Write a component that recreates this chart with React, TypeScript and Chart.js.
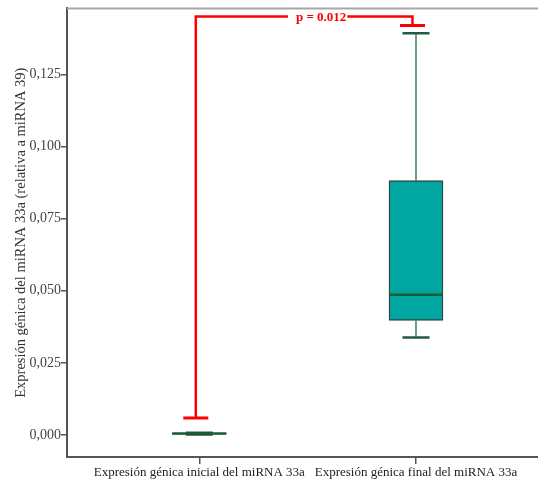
import React, { useEffect, useRef } from "react";
import { Chart, registerables } from "chart.js";

Chart.register(...registerables);

// ---- data ----
const categories = [
  "Expresión génica inicial del miRNA 33a",
  "Expresión génica final del miRNA 33a",
];
const categoryPositions = [1, 2];
const whiskerLow = [0.0002, 0.0338];
const quartile1 = [0.0003, 0.0397];
const medians = [0.0005, 0.0486];
const quartile3 = [0.0006, 0.0882];
const whiskerHigh = [0.0008, 0.1393];
const yTickValues = [0, 0.025, 0.05, 0.075, 0.1, 0.125];
const yAxisTitle = "Expresión génica del miRNA 33a (relativa a miRNA 39)";
const bracketTop = 0.1451;
const bracketLeftEnd = 0.0059;
const bracketRightEnd = 0.142;
const pLabel = "p = 0.012";

const Y_MIN = -0.00764;
const Y_MAX = 0.14792;
const X_MIN = 0.3895;
const X_MAX = 2.563;

const FONT = '"Liberation Serif", "Times New Roman", serif';

const boxPlugin = {
  id: "boxExtras",
  afterDatasetsDraw(chart: any) {
    const ctx = chart.ctx;
    const xs = chart.scales.x;
    const ys = chart.scales.y;
    const area = chart.chartArea;
    ctx.save();
    // top frame line
    ctx.strokeStyle = "#a8a8a8";
    ctx.lineWidth = 2;
    ctx.beginPath();
    ctx.moveTo(area.left, area.top);
    ctx.lineTo(chart.width, area.top);
    ctx.stroke();

    const boxHalf = 27;
    const capHalf = 13.5;
    categoryPositions.forEach((pos, i) => {
      const cx = xs.getPixelForValue(pos);
      const yLo = ys.getPixelForValue(whiskerLow[i]);
      const yQ1 = ys.getPixelForValue(quartile1[i]);
      const yQ3 = ys.getPixelForValue(quartile3[i]);
      const yHi = ys.getPixelForValue(whiskerHigh[i]);
      const yMed = ys.getPixelForValue(medians[i]);
      // whiskers
      ctx.strokeStyle = "#3b7c5e";
      ctx.lineWidth = 1.5;
      ctx.beginPath();
      ctx.moveTo(cx, yQ3);
      ctx.lineTo(cx, yHi);
      ctx.moveTo(cx, yQ1);
      ctx.lineTo(cx, yLo);
      ctx.stroke();
      // caps
      ctx.strokeStyle = "#1d5e3d";
      ctx.lineWidth = 2.5;
      ctx.beginPath();
      ctx.moveTo(cx - capHalf, yHi);
      ctx.lineTo(cx + capHalf, yHi);
      ctx.moveTo(cx - capHalf, yLo);
      ctx.lineTo(cx + capHalf, yLo);
      ctx.stroke();
      // median
      ctx.strokeStyle = "#1a5a36";
      ctx.lineWidth = 2.5;
      ctx.beginPath();
      ctx.moveTo(cx - boxHalf, yMed);
      ctx.lineTo(cx + boxHalf, yMed);
      ctx.stroke();
    });

    // significance bracket
    const off = -3.5;
    const lx = xs.getPixelForValue(categoryPositions[0]) + off;
    const rx = xs.getPixelForValue(categoryPositions[1]) + off;
    const yTop = ys.getPixelForValue(bracketTop);
    const yL = ys.getPixelForValue(bracketLeftEnd);
    const yR = ys.getPixelForValue(bracketRightEnd);
    ctx.strokeStyle = "#ff0000";
    ctx.lineWidth = 2.5;
    ctx.lineCap = "butt";
    ctx.beginPath();
    ctx.moveTo(lx, yL);
    ctx.lineTo(lx, yTop);
    ctx.lineTo(rx, yTop);
    ctx.lineTo(rx, yR);
    ctx.stroke();
    ctx.lineWidth = 3;
    ctx.beginPath();
    ctx.moveTo(lx - 12.5, yL);
    ctx.lineTo(lx + 12.5, yL);
    ctx.moveTo(rx - 12.5, yR);
    ctx.lineTo(rx + 12.5, yR);
    ctx.stroke();
    // p label
    ctx.font = "bold 13px " + FONT;
    const tw = ctx.measureText(pLabel).width;
    const tx = (lx + rx) / 2 + 17;
    ctx.fillStyle = "#ffffff";
    ctx.fillRect(tx - tw / 2 - 8, yTop - 3, tw + 9, 6);
    ctx.fillStyle = "#ff0000";
    ctx.textAlign = "center";
    ctx.textBaseline = "middle";
    ctx.fillText(pLabel, tx, yTop + 1);
    ctx.restore();
  },
};

export default function App() {
  const ref = useRef<HTMLCanvasElement | null>(null);
  useEffect(() => {
    if (!ref.current) return;
    const chart = new Chart(ref.current, {
      type: "bar",
      data: {
        datasets: [
          {
            data: categoryPositions.map((p, i) => ({ x: p, y: [quartile1[i], quartile3[i]] })) as any,
            backgroundColor: "#00a6a1",
            borderColor: "#2a4a44",
            borderWidth: 1.5,
            borderSkipped: false,
            barThickness: 54,
          },
        ],
      },
      options: {
        responsive: false,
        animation: false,
        layout: { padding: { top: 8, left: 0, right: 0, bottom: 0 } },
        plugins: { legend: { display: false }, tooltip: { enabled: false } },
        scales: {
          x: {
            type: "linear",
            min: X_MIN,
            max: X_MAX,
            offset: false,
            afterBuildTicks: (s: any) => {
              s.ticks = categoryPositions.map((v) => ({ value: v }));
            },
            afterFit: (s: any) => {
              s.height = 24;
            },
            ticks: {
              callback: (_v: any, idx: number) => categories[idx],
              font: { family: FONT, size: 13 },
              color: "#222",
              padding: 1,
              maxRotation: 0,
              autoSkip: false,
            },
            grid: { drawOnChartArea: false, drawTicks: true, tickLength: 7, color: "#555", lineWidth: 1.5, offset: false },
            border: { display: true, color: "#555", width: 2 },
          },
          y: {
            min: Y_MIN,
            max: Y_MAX,
            afterBuildTicks: (s: any) => {
              s.ticks = yTickValues.map((v) => ({ value: v }));
            },
            afterFit: (s: any) => {
              s.width = 67;
            },
            ticks: {
              callback: (v: any) => Number(v).toFixed(3).replace(".", ","),
              font: { family: FONT, size: 14 },
              color: "#444",
              padding: 0,
            },
            grid: { drawOnChartArea: false, drawTicks: true, tickLength: 6, color: "#555", lineWidth: 1.5 },
            border: { display: true, color: "#555", width: 2 },
            title: {
              display: true,
              text: yAxisTitle,
              font: { family: FONT, size: 14.5 },
              color: "#333",
              padding: { top: 12, bottom: 0 },
            },
          },
        },
      },
      plugins: [boxPlugin],
    });
    return () => chart.destroy();
  }, []);
  return (
    <div style={{ position: "absolute", left: 0, top: 0, width: 538, height: 481, background: "#fff" }}>
      <canvas ref={ref} width={538} height={481} />
    </div>
  );
}
